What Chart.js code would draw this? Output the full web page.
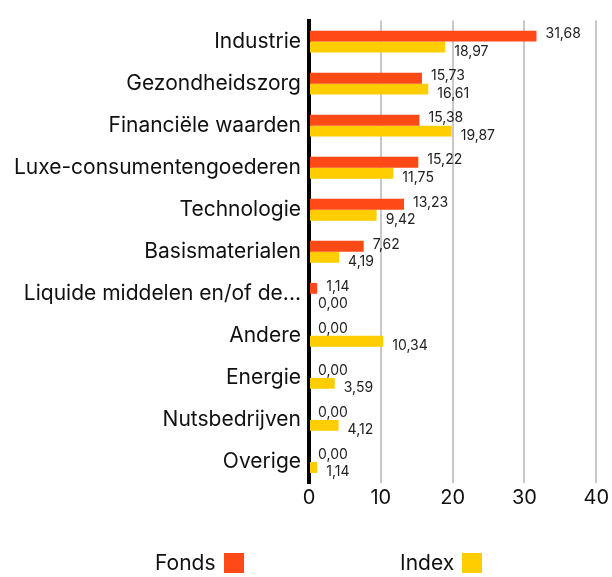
<!DOCTYPE html>
<html>
<head>
<meta charset="utf-8">
<script src="https://cdn.jsdelivr.net/npm/chart.js@4/dist/chart.umd.min.js"></script>
<style>
  body { margin: 0; background: #fff; font-family: Inter, sans-serif; }
  .wrap { position: relative; width: 612px; height: 577px; }
  .legend-item { position: absolute; top: 553px; display: flex; align-items: flex-end; font-size: 21px; color: #111; line-height: 20px; }
  .legend-item span.box { display: inline-block; width: 20px; height: 20px; margin-left: 8px; }
</style>
</head>
<body>
<div class="wrap">
  <canvas id="chart" width="612" height="577"></canvas>
  <div id="legend"></div>
</div>
<script>
// sector weights (%)
const categories = [
    "Industrie", "Gezondheidszorg", "Financiële waarden", "Luxe-consumentengoederen",
    "Technologie", "Basismaterialen", "Liquide middelen en/of de...", "Andere",
    "Energie", "Nutsbedrijven", "Overige"
];
const fondsValues = [31.68, 15.73, 15.38, 15.22, 13.23, 7.62, 1.14, 0.00, 0.00, 0.00, 0.00];
const indexValues = [18.97, 16.61, 19.87, 11.75, 9.42, 4.19, 0.00, 10.34, 3.59, 4.12, 1.14];
const xTicks = [0, 10, 20, 30, 40];

const seriesNames = ["Fonds", "Index"];
const seriesColors = ["#FF4A17", "#FFCD00"];

// value labels next to each bar, like "31,68"
const valueLabels = {
    id: 'valueLabels',
    afterDatasetsDraw(chart) {
        const ctx = chart.ctx;
        ctx.save();
        ctx.font = '14px Inter, sans-serif';
        ctx.fillStyle = '#222';
        ctx.textAlign = 'left';
        ctx.textBaseline = 'middle';
        chart.data.datasets.forEach((ds, i) => {
            const meta = chart.getDatasetMeta(i);
            meta.data.forEach((bar, j) => {
                const txt = ds.data[j].toFixed(2).replace('.', ',');
                const dy = i === 0 ? -2 : 4.5;
                ctx.fillText(txt, bar.x + 9, bar.y + dy);
            });
        });
        ctx.restore();
    }
};

const ctx = document.getElementById('chart').getContext('2d');
new Chart(ctx, {
    type: 'bar',
    data: {
        labels: categories,
        datasets: [
            { label: seriesNames[0], data: fondsValues, backgroundColor: seriesColors[0] },
            { label: seriesNames[1], data: indexValues, backgroundColor: seriesColors[1] }
        ]
    },
    options: {
        indexAxis: 'y',
        responsive: false,
        animation: false,
        categoryPercentage: 0.52,
        barPercentage: 1,
        layout: { padding: { top: 17, right: 12, bottom: 66, left: 0 } },
        plugins: {
            legend: { display: false },
            tooltip: { enabled: false }
        },
        scales: {
            x: {
                min: 0,
                max: 40,
                afterBuildTicks: s => { s.ticks = xTicks.map(v => ({ value: v })); },
                afterFit: s => { s.height = 28; },
                grid: { color: '#c8c8c8', lineWidth: 2, drawTicks: false },
                border: { display: false },
                ticks: { color: '#111', font: { family: 'Inter', size: 20 }, padding: 3 }
            },
            y: {
                afterFit: s => { s.width = 309; },
                grid: { display: false, drawTicks: false },
                border: { color: '#000', width: 4 },
                ticks: { color: '#111', font: { family: 'Inter', size: 21 }, padding: 8 }
            }
        }
    },
    plugins: [valueLabels]
});

// legend: text first, colour box after it
const legend = document.getElementById('legend');
const legendLeft = [155, 400];
seriesNames.forEach((name, i) => {
    const item = document.createElement('div');
    item.className = 'legend-item';
    item.style.left = legendLeft[i] + 'px';
    item.innerHTML = name + '<span class="box" style="background:' + seriesColors[i] + '"></span>';
    legend.appendChild(item);
});
</script>
</body>
</html>
